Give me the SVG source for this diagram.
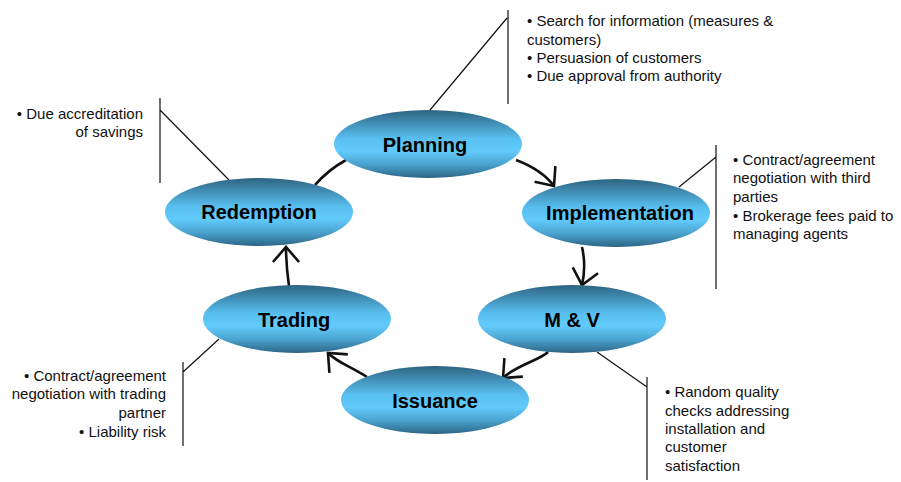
<svg xmlns="http://www.w3.org/2000/svg" width="901" height="482" viewBox="0 0 901 482">
<style>
.lbl{font-family:"Liberation Sans",Arial,sans-serif;font-size:20px;font-weight:bold;fill:#000;text-anchor:middle}
.note{font-family:"Liberation Sans",Arial,sans-serif;font-size:15px;fill:#111}
.r{text-anchor:end}
.conn{fill:none;stroke:#111;stroke-width:2.6}
.call{fill:none;stroke:#111;stroke-width:1.2}
.node{fill:url(#g)}
</style>
<defs>
<linearGradient id="g" x1="0" y1="0" x2="0" y2="1">
<stop offset="0" stop-color="#2e6482"/>
<stop offset="0.42" stop-color="#58bff0"/>
<stop offset="0.6" stop-color="#62cbfc"/>
<stop offset="0.8" stop-color="#4aa3cf"/>
<stop offset="1" stop-color="#2c6585"/>
</linearGradient>
<marker id="a" viewBox="0 0 20 30" refX="17" refY="15" markerWidth="20" markerHeight="30" markerUnits="userSpaceOnUse" orient="auto">
<path d="M2,2 L17,15 L2,28" fill="none" stroke="#111" stroke-width="2.6"/>
</marker>
</defs>
<rect width="901" height="482" fill="#fff"/>
<g id="connectors">
<path class="conn" d="M516,160 C532,166 545,174 554,186" marker-end="url(#a)"/>
<path class="conn" d="M582,247 C585,260 585,272 582,285" marker-end="url(#a)"/>
<path class="conn" d="M548,352 C540,360 515,366 503,378" marker-end="url(#a)"/>
<path class="conn" d="M367,377 C350,366 338,363 328,353" marker-end="url(#a)"/>
<path class="conn" d="M289,286 C287,272 286,260 286,247" marker-end="url(#a)"/>
<path class="conn" d="M315,185 Q328,170 346,160"/>
</g>
<g id="callouts">
<path class="call" d="M508,10 V104 M430,110 L507,18"/>
<path class="call" d="M716,145 V289 M679,187 L716,157"/>
<path class="call" d="M647,377 V480 M597,352 L647,387"/>
<path class="call" d="M183,362 V446 M219,339 L183,372"/>
<path class="call" d="M160,98 V183 M160,110 L229,180"/>
</g>
<g id="planning"><ellipse class="node" cx="428" cy="144" rx="94" ry="34"/><text class="lbl" x="425" y="152">Planning</text></g>
<g id="implementation"><ellipse class="node" cx="616" cy="213" rx="94" ry="34"/><text class="lbl" x="620" y="220">Implementation</text></g>
<g id="mv"><ellipse class="node" cx="572" cy="319" rx="94" ry="34"/><text class="lbl" x="572" y="327">M &amp; V</text></g>
<g id="issuance"><ellipse class="node" cx="435" cy="400" rx="94" ry="34"/><text class="lbl" x="435" y="408">Issuance</text></g>
<g id="trading"><ellipse class="node" cx="297" cy="319" rx="94" ry="34"/><text class="lbl" x="294" y="327">Trading</text></g>
<g id="redemption"><ellipse class="node" cx="259" cy="212" rx="94" ry="34"/><text class="lbl" x="259" y="219">Redemption</text></g>
<g id="note-planning"><text class="note"><tspan x="527" y="26">• Search for information (measures &amp;</tspan><tspan x="527" y="45">customers)</tspan><tspan x="527" y="63">• Persuasion of customers</tspan><tspan x="527" y="81">• Due approval from authority</tspan></text></g>
<g id="note-implementation"><text class="note"><tspan x="733" y="165">• Contract/agreement</tspan><tspan x="733" y="183">negotiation with third</tspan><tspan x="733" y="202">parties</tspan><tspan x="733" y="221">• Brokerage fees paid to</tspan><tspan x="733" y="239">managing agents</tspan></text></g>
<g id="note-mv"><text class="note"><tspan x="665" y="397">• Random quality</tspan><tspan x="665" y="416">checks addressing</tspan><tspan x="665" y="434">installation and</tspan><tspan x="665" y="452">customer</tspan><tspan x="665" y="471">satisfaction</tspan></text></g>
<g id="note-trading"><text class="note r"><tspan x="166" y="381">• Contract/agreement</tspan><tspan x="166" y="399">negotiation with trading</tspan><tspan x="166" y="418">partner</tspan><tspan x="166" y="437">• Liability risk</tspan></text></g>
<g id="note-redemption"><text class="note r"><tspan x="143" y="119">• Due accreditation</tspan><tspan x="143" y="137">of savings</tspan></text></g>
</svg>
